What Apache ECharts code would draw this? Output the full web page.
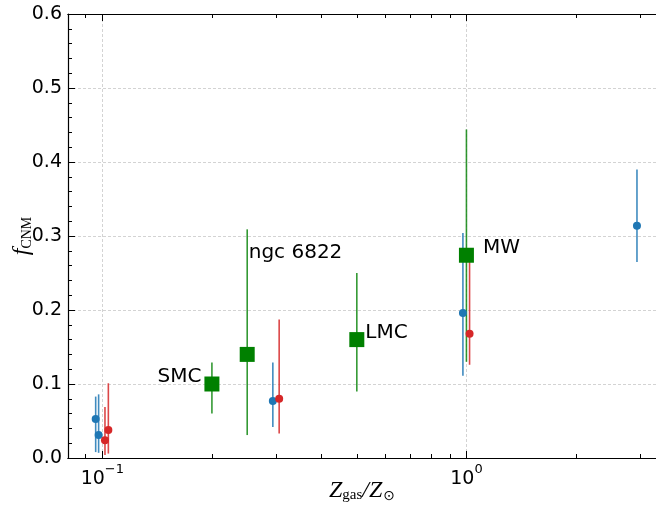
<!DOCTYPE html>
<html>
<head>
<meta charset="utf-8">
<script src="https://cdn.jsdelivr.net/npm/echarts@6/dist/echarts.min.js"></script>
<style>
  html, body { margin: 0; padding: 0; background: #fff; }
  #chart { width: 656px; height: 509px; }
</style>
</head>
<body>
<div id="chart"></div>
<script>
// galaxies (green squares)
const greenNames = ['SMC', 'ngc 6822', 'LMC', 'MW']
const greenX = [0.2, 0.25, 0.5, 1.0]
const greenY = [0.10, 0.14, 0.16, 0.274]
const greenLo = [0.060, 0.031, 0.090, 0.130]
const greenHi = [0.129, 0.309, 0.250, 0.444]

// blue points
const blueX = [0.0959, 0.0977, 0.294, 0.978, 2.94]
const blueY = [0.0527, 0.031, 0.077, 0.196, 0.314]
const blueLo = [0.008, 0.007, 0.042, 0.111, 0.265]
const blueHi = [0.083, 0.086, 0.129, 0.304, 0.390]

// red points
const redX = [0.1017, 0.1039, 0.306, 1.02]
const redY = [0.024, 0.038, 0.080, 0.168]
const redLo = [0.004, 0.006, 0.033, 0.126]
const redHi = [0.069, 0.101, 0.187, 0.265]

// axes
const xMin = 0.0805
const xMax = 3.316
const xMajorTicks = [0.1, 1]
const xMinorTicks = [0.09, 0.2, 0.3, 0.4, 0.5, 0.6, 0.7, 0.8, 0.9, 2, 3]
const yMin = 0
const yMax = 0.6

// label placement for the galaxy names (style only)
const greenLabelPos = [
  { position: 'left', distance: 3, offset: [0, -7] },
  { position: 'right', distance: 0, offset: [-6, -102] },
  { position: 'right', distance: 1, offset: [0, -7] },
  { position: 'right', distance: 9, offset: [0, -7] }
]

const chart = echarts.init(document.getElementById('chart'))

function xAxisDef (pos, ticks, len, major) {
  return {
    type: 'log',
    logBase: 10,
    min: xMin,
    max: xMax,
    position: pos,
    gridIndex: 0,
    axisLine: { show: true, onZero: false, lineStyle: { color: '#000', width: 1.2 } },
    axisTick: { show: true, inside: true, length: len, customValues: ticks, lineStyle: { color: '#000', width: 1 } },
    axisLabel: (major && pos === 'bottom') ? {
      show: true,
      customValues: xMajorTicks,
      margin: 5,
      formatter: function (v) {
        const e = Math.round(Math.log10(v))
        return '{b|10}{s|' + (e < 0 ? '\u2212' + (-e) : e) + '}'
      },
      rich: {
        b: { fontFamily: 'DejaVu Sans', fontSize: 19, color: '#000', verticalAlign: 'bottom', lineHeight: 26 },
        s: { fontFamily: 'DejaVu Sans', fontSize: 13, color: '#000', verticalAlign: 'top', lineHeight: 26 }
      }
    } : { show: false },
    splitLine: (major && pos === 'bottom') ? { show: true, lineStyle: { color: '#c8c8c8', width: 0.8, type: [3, 2] } } : { show: false },
    name: (major && pos === 'bottom') ? '{z|Z}{sub|gas}{z|/Z}{sub2|\u2299}' : '',
    nameLocation: 'middle',
    nameGap: 33,
    nameMoveOverlap: false,
    nameTextStyle: {
      align: 'center',
      verticalAlign: 'middle',
      rich: {
        z: { fontFamily: 'Liberation Serif', fontStyle: 'italic', fontSize: 24, color: '#000', verticalAlign: 'top' },
        sub: { fontFamily: 'Liberation Serif', fontSize: 15, color: '#000', verticalAlign: 'bottom', padding: [9, 0, 0, 0] },
        sub2: { fontFamily: 'DejaVu Sans', fontSize: 14, color: '#000', verticalAlign: 'bottom', padding: [9, 0, 0, 1] }
      }
    }
  }
}

function errorBars (color, xs, lo, hi, opacity) {
  return {
    type: 'custom',
    xAxisIndex: 0,
    yAxisIndex: 0,
    silent: true,
    encode: { x: 0, y: [1, 2] },
    data: xs.map((x, i) => [x, lo[i], hi[i]]),
    renderItem: function (params, api) {
      const p0 = api.coord([api.value(0), api.value(1)])
      const p1 = api.coord([api.value(0), api.value(2)])
      return {
        type: 'line',
        shape: { x1: p0[0], y1: p0[1], x2: p1[0], y2: p1[1] },
        style: { stroke: color, lineWidth: 1.6, opacity: opacity }
      }
    }
  }
}

const option = {
  animation: false,
  backgroundColor: '#fff',
  grid: { left: 68, top: 14, right: 0, bottom: 51, outerBoundsMode: 'none', containLabel: false },
  xAxis: [
    xAxisDef('bottom', xMajorTicks, 7, true),
    xAxisDef('bottom', xMinorTicks, 4, false),
    xAxisDef('top', xMajorTicks, 7, true),
    xAxisDef('top', xMinorTicks, 4, false)
  ],
  yAxis: {
    type: 'value',
    min: yMin,
    max: yMax,
    interval: 0.1,
    axisLine: { show: true, onZero: false, lineStyle: { color: '#000', width: 1.2 } },
    axisTick: { show: true, inside: true, length: 7, lineStyle: { color: '#000', width: 1 } },
    minorTick: { show: true, splitNumber: 5, length: 4, lineStyle: { color: '#000', width: 1 } },
    axisLabel: {
      margin: 6,
      fontFamily: 'DejaVu Sans',
      fontSize: 19,
      color: '#000',
      formatter: v => v.toFixed(1)
    },
    splitLine: { show: true, lineStyle: { color: '#c8c8c8', width: 0.8, type: [3, 2] } },
    name: '{f|f}{sub|CNM}',
    nameLocation: 'middle',
    nameGap: 46,
    nameMoveOverlap: false,
    nameTextStyle: {
      align: 'center',
      verticalAlign: 'middle',
      rich: {
        f: { fontFamily: 'Liberation Serif', fontStyle: 'italic', fontSize: 24, color: '#000', verticalAlign: 'top' },
        sub: { fontFamily: 'Liberation Serif', fontSize: 14, color: '#000', verticalAlign: 'bottom', padding: [8, 0, 0, 0] }
      }
    }
  },
  series: [
    errorBars('#1f77b4', blueX, blueLo, blueHi, 0.85),
    {
      type: 'scatter',
      symbol: 'circle',
      symbolSize: 8,
      itemStyle: { color: '#1f77b4', opacity: 1 },
      data: blueX.map((x, i) => [x, blueY[i]])
    },
    errorBars('#d62728', redX, redLo, redHi, 0.85),
    {
      type: 'scatter',
      symbol: 'circle',
      symbolSize: 8,
      itemStyle: { color: '#d62728', opacity: 1 },
      data: redX.map((x, i) => [x, redY[i]])
    },
    errorBars('#008000', greenX, greenLo, greenHi, 0.8),
    {
      type: 'scatter',
      symbol: 'rect',
      symbolSize: 15,
      itemStyle: { color: '#008000', opacity: 1 },
      label: {
        show: true,
        fontFamily: 'DejaVu Sans',
        fontSize: 20,
        color: '#000',
        formatter: p => p.name
      },
      data: greenX.map((x, i) => ({
        name: greenNames[i],
        value: [x, greenY[i]],
        label: greenLabelPos[i]
      }))
    }
  ]
}

chart.setOption(option)
</script>
</body>
</html>
